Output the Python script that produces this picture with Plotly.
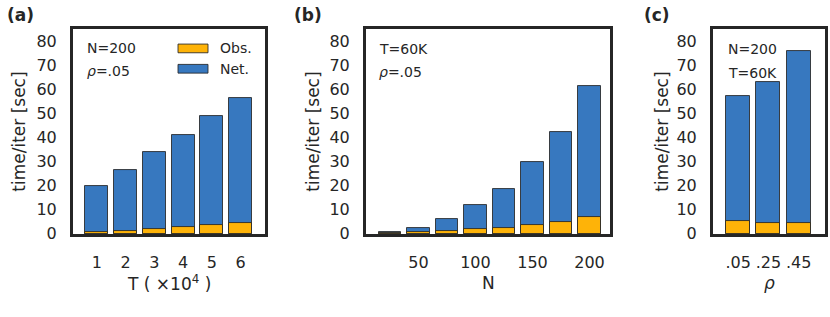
import plotly.graph_objects as go

# ---- data ----
T_vals = [1, 2, 3, 4, 5, 6]
T_net = [19.9, 26.5, 34.0, 41.0, 49.0, 56.5]
T_obs = [0.6, 1.2, 2.0, 2.7, 3.5, 4.3]

N_vals = [25, 50, 75, 100, 125, 150, 175, 200]
N_net = [0.7, 2.6, 6.2, 12.1, 18.8, 30.0, 42.2, 61.3]
N_obs = [0.3, 0.6, 1.2, 2.2, 2.3, 3.8, 5.0, 7.0]

rho_labels = [".05", ".25", ".45"]
rho_net = [57.3, 62.9, 75.8]
rho_obs = [5.4, 4.3, 4.6]

y_ticks = [0, 10, 20, 30, 40, 50, 60, 70, 80]
N_ticks = [50, 100, 150, 200]
series_names = ["Obs.", "Net."]

W, H = 830, 317
BLUE = "#3778bf"
ORANGE = "#feb308"
DARK = "#262626"
FONT = "DejaVu Sans"

def px(x):
    return x / W

def py(y):
    return 1 - y / H

fig = go.Figure()

edge = dict(color="rgba(38,38,38,0.85)", width=1)

panels = [
    ("x", "y", T_vals, T_net, T_obs, 0.8),
    ("x2", "y2", N_vals, N_net, N_obs, 20),
    ("x3", "y3", rho_labels, rho_net, rho_obs, 0.79),
]
for xa, ya, xs, net, obs, w in panels:
    fig.add_trace(go.Bar(x=xs, y=net, name=series_names[1], width=w,
                         marker=dict(color=BLUE, line=edge),
                         xaxis=xa, yaxis=ya, showlegend=False))
    fig.add_trace(go.Bar(x=xs, y=obs, name=series_names[0], width=w,
                         marker=dict(color=ORANGE, line=edge),
                         xaxis=xa, yaxis=ya, showlegend=False))

top, bot = 30, 241.5
ydom = [py(bot), py(top)]
doms = [(73, 265), (366, 610), (713, 825)]

common_axis = dict(showline=True, linecolor=DARK, linewidth=3, mirror=True,
                   showgrid=False, zeroline=False, ticks="",
                   tickfont=dict(family=FONT, size=16, color=DARK))

yax = dict(common_axis, range=[0, 85], tickvals=y_ticks, ticklabelstandoff=10,
           domain=ydom)

fig.update_layout(
    width=W, height=H, autosize=False,
    margin=dict(l=0, r=0, t=0, b=0),
    paper_bgcolor="white", plot_bgcolor="white",
    barmode="overlay", bargap=0,
    font=dict(family=FONT, color=DARK),
    xaxis=dict(common_axis, domain=[px(doms[0][0]), px(doms[0][1])],
               range=[0.17, 6.85], tickvals=T_vals, anchor="y",
               ticklabelstandoff=12),
    yaxis=dict(yax, anchor="x"),
    xaxis2=dict(common_axis, domain=[px(doms[1][0]), px(doms[1][1])],
                range=[4, 218], tickvals=N_ticks, anchor="y2",
                ticklabelstandoff=12),
    yaxis2=dict(yax, anchor="x2"),
    xaxis3=dict(common_axis, domain=[px(doms[2][0]), px(doms[2][1])],
                type="category", range=[-0.83, 2.87], anchor="y3",
                ticklabelstandoff=12),
    yaxis3=dict(yax, anchor="x3"),
)

ann = []

def text(x, y, s, size=14, xanchor="left", angle=0):
    ann.append(dict(x=px(x), y=py(y), xref="paper", yref="paper", text=s,
                    showarrow=False, xanchor=xanchor, yanchor="middle",
                    textangle=angle,
                    font=dict(family=FONT, size=size, color=DARK)))

# panel labels
text(5, 15, "<b>(a)</b>", size=17)
text(292, 15, "<b>(b)</b>", size=17)
text(642, 15, "<b>(c)</b>", size=17)

# y axis titles
for xc in (19, 313, 662):
    text(xc, 136, "time/iter [sec]", size=17, xanchor="center", angle=-90)

# x axis titles
text(169, 292, "T ( ×10<sup>4</sup> )", size=17, xanchor="center")
text(488, 292, "N", size=17, xanchor="center")
text(769, 292, "<i>ρ</i>", size=17, xanchor="center")

# in-plot notes
text(85, 50, "N=200")
text(85, 73, "<i>ρ</i>=.05")
text(377, 51, "T=60K")
text(377, 74, "<i>ρ</i>=.05")
text(726, 51, "N=200")
text(726, 75, "T=60K")

# legend for panel (a)
shapes = []
for (name, col, yc) in [(series_names[0], ORANGE, 50), (series_names[1], BLUE, 71)]:
    shapes.append(dict(type="rect", xref="paper", yref="paper",
                       x0=px(178), x1=px(208), y0=py(yc + 4.5), y1=py(yc - 4.5),
                       fillcolor=col, line=dict(color="rgba(38,38,38,0.85)", width=1)))
    text(218, yc, name)

fig.update_layout(annotations=ann, shapes=shapes)

fig.write_html("out.html", config={"displayModeBar": False},
               post_script="document.body.style.margin='0';document.body.style.overflow='hidden';")
